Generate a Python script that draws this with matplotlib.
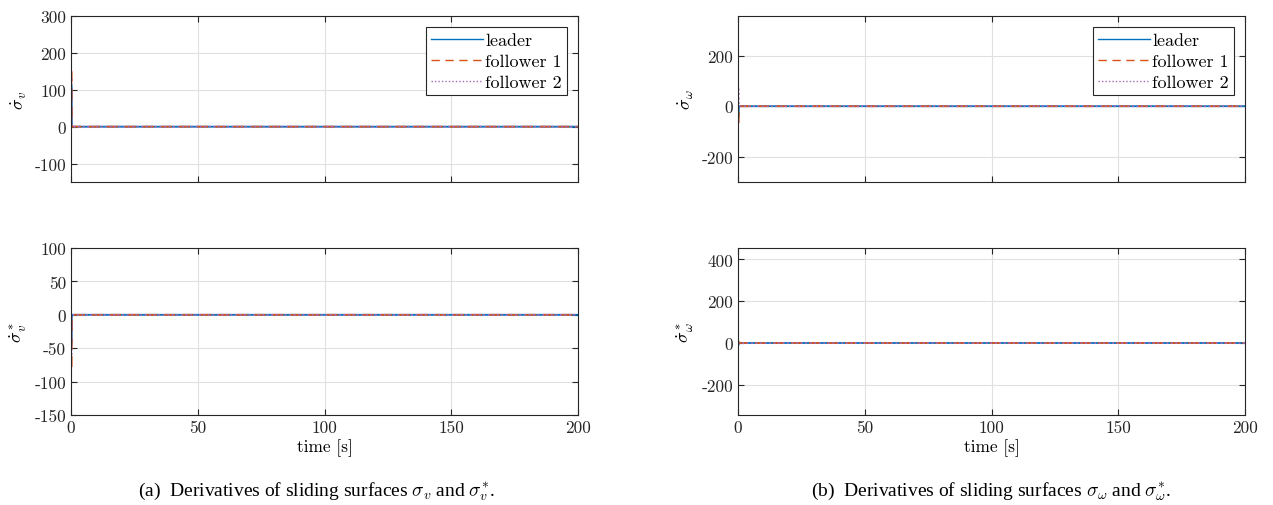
import matplotlib
matplotlib.use("Agg")
import matplotlib.pyplot as plt

plt.rcParams['mathtext.fontset'] = 'cm'
plt.rcParams['axes.unicode_minus'] = False

# ---- data ----
time = [0.25, 0.3, 0.35, 0.4, 200.0]

# sigma_v dot
sv_leader = [110, 20, 2, 0, 0]
sv_f1 = [150, 30, 3, 0, 0]
sv_f2 = [130, 25, 2, 0, 0]

# sigma_v* dot
svs_leader = [-42, -8, -1, 0, 0]
svs_f1 = [-78, -15, -2, 0, 0]
svs_f2 = [-60, -10, -1, 0, 0]

# sigma_omega dot
sw_leader = [-40, -8, -1, 0, 0]
sw_f1 = [-67, -12, -1, 0, 0]
sw_f2 = [70, 12, 1, 0, 0]

# sigma_omega* dot
sws_leader = [-8, -2, 0, 0, 0]
sws_f1 = [10, 2, 0, 0, 0]
sws_f2 = [6, 1, 0, 0, 0]

series_names = ['leader', 'follower 1', 'follower 2']
x_ticks = [0, 50, 100, 150, 200]

panels = [
    dict(data=[sv_leader, sv_f1, sv_f2], ylim=(-150, 300), yticks=[-100, 0, 100, 200, 300],
         ylabel=r'$\dot{\sigma}_v$', legend=True, xl=False),
    dict(data=[sw_leader, sw_f1, sw_f2], ylim=(-300, 357), yticks=[-200, 0, 200],
         ylabel=r'$\dot{\sigma}_\omega$', legend=True, xl=False),
    dict(data=[svs_leader, svs_f1, svs_f2], ylim=(-150, 100), yticks=[-150, -100, -50, 0, 50, 100],
         ylabel=r'$\dot{\sigma}_v^*$', legend=False, xl=True),
    dict(data=[sws_leader, sws_f1, sws_f2], ylim=(-345, 455), yticks=[-200, 0, 200, 400],
         ylabel=r'$\dot{\sigma}_\omega^*$', legend=False, xl=True),
]

colors = ['#0072BD', '#D95319', '#A26BB5']
styles = ['-', (0, (6, 4)), (0, (1, 1.5))]

W, H = 1273, 506
fig = plt.figure(figsize=(W / 100, H / 100), dpi=100)

rects = [
    (71, 17, 578, 183),
    (738, 17, 1245, 183),
    (71, 249, 578, 416),
    (738, 249, 1245, 416),
]

tickfont = dict(family='cmr10', size=12.5)

for p, (x0, y0, x1, y1) in zip(panels, rects):
    ax = fig.add_axes([x0 / W, 1 - y1 / H, (x1 - x0) / W, (y1 - y0) / H])
    for vals, c, ls, name in zip(p['data'], colors, styles, series_names):
        ax.plot(time, vals, color=c, linestyle=ls, linewidth=1.3, label=name)
    ax.set_xlim(0, 200)
    ax.set_ylim(*p['ylim'])
    ax.set_xticks(x_ticks)
    ax.set_yticks(p['yticks'])
    ax.grid(True, color='#e0e0e0', linewidth=0.8)
    ax.set_axisbelow(True)
    ax.tick_params(direction='in', top=True, right=True, length=4, width=0.8,
                   colors='#262626', labelsize=12.5)
    for s in ax.spines.values():
        s.set_color('#262626')
        s.set_linewidth(0.8)
    ax.set_yticklabels([str(v) for v in p['yticks']], fontdict=tickfont)
    if p['xl']:
        ax.set_xticklabels([str(v) for v in x_ticks], fontdict=tickfont)
        ax.set_xlabel('time [s]', fontdict=tickfont, labelpad=2)
    else:
        ax.set_xticklabels([])
    ax.set_ylabel(p['ylabel'], fontsize=13, labelpad=4)
    if p['legend']:
        leg = ax.legend(loc='upper right', prop=dict(family='cmr10', size=13),
                        fancybox=False, framealpha=1, edgecolor='#262626',
                        borderpad=0.3, labelspacing=0.3, handlelength=2.9,
                        handletextpad=0.1, borderaxespad=0.6)
        leg.get_frame().set_linewidth(0.8)
        for line in leg.get_lines():
            line.set_linewidth(1.0)

fig.text((71 + 578) / 2 / W - 0.006, 1 - 492 / H,
         r'(a)  Derivatives of sliding surfaces $\sigma_v$ and $\sigma_v^{*}$.',
         ha='center', va='center', family='Liberation Serif', fontsize=14)
fig.text((738 + 1245) / 2 / W, 1 - 492 / H,
         r'(b)  Derivatives of sliding surfaces $\sigma_\omega$ and $\sigma_\omega^{*}$.',
         ha='center', va='center', family='Liberation Serif', fontsize=14)

fig.savefig('out.png', dpi=100)
